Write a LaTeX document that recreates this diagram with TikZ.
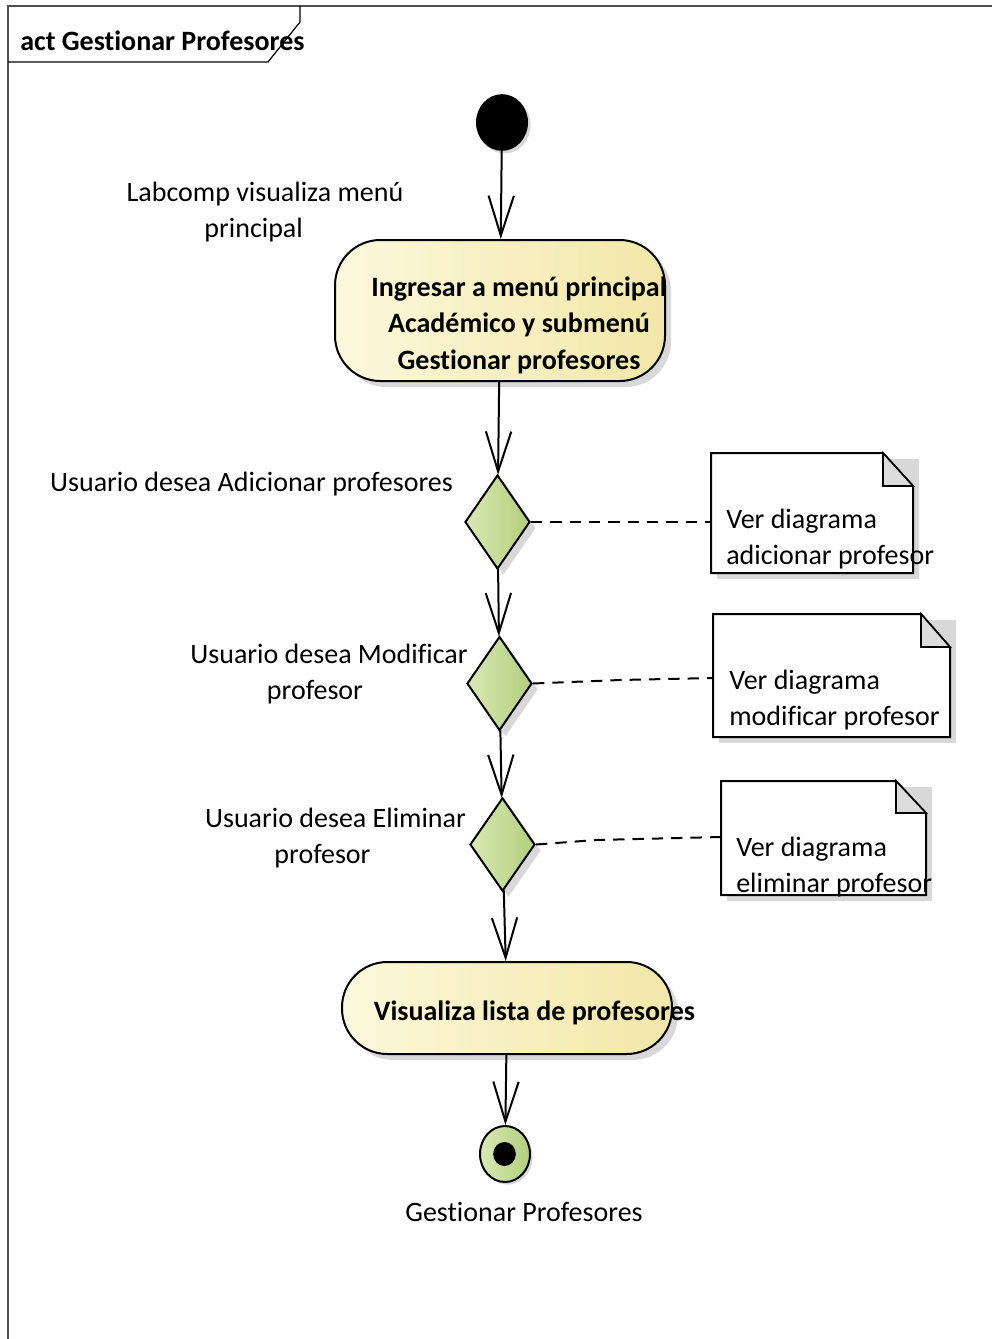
\documentclass[tikz,border=0pt]{standalone}
\usepackage{fontspec}
\setmainfont{Carlito}[Ligatures={NoCommon}]
\usetikzlibrary{arrows.meta,shapes.geometric,shadows}
\definecolor{actA}{HTML}{FCF8DC}
\definecolor{actB}{HTML}{F2E7A8}
\definecolor{decA}{HTML}{D9E9B4}
\definecolor{decB}{HTML}{B2CE7C}
\definecolor{shad}{HTML}{D8D8D8}
\definecolor{foldc}{HTML}{DCDCDC}
\definecolor{framec}{HTML}{505050}
\begin{document}
\begin{tikzpicture}[x=0.75pt,y=-0.75pt,
  every node/.style={font=\fontsize{21pt}{27pt}\selectfont, inner sep=0pt},
  flow/.style={draw, line width=1.5pt, -{Straight Barb[length=30pt,width=19pt,line width=1.5pt]}},
  notelink/.style={draw, line width=1.5pt, dash pattern=on 8.5pt off 6pt},
  mysh/.style={drop shadow={shadow xshift=4.5pt, shadow yshift=-4.5pt, fill=shad, opacity=1}},
  actbox/.style={rectangle, rounded corners=34pt, draw, line width=1.5pt, left color=actA, right color=actB, mysh},
  decbox/.style={diamond, draw, line width=1.5pt, left color=decA, right color=decB, mysh},
  notebox/.style={draw, line width=1.5pt, fill=white},
  lbl/.style={align=center},
  notetxt/.style={align=left, anchor=west},
]
\useasboundingbox (0,0) rectangle (992,1339);
% frame
\draw[framec, line width=0.9pt] (992,6) -- (8,6) -- (8,1339);
\draw[line width=0.9pt] (8,62) -- (268,62) -- (300,22) -- (300,6);
\node[anchor=west, font=\fontsize{21pt}{27pt}\selectfont\bfseries] (title) at (20,41) {act Gestionar Profesores};

% initial node
\node[ellipse, fill=black, minimum width=39pt, minimum height=42.5pt,
  drop shadow={shadow xshift=2pt, shadow yshift=-2pt, fill=shad, opacity=1}] (init) at (502,122.5) {};
\node[lbl] (l0) at (259,212) {\hspace*{9pt}Labcomp visualiza menú\\principal\hspace*{8pt}};

% action 1
\node[actbox, minimum width=247.5pt, minimum height=105.75pt] (act1) at (500,310.5) {};
\node[lbl, font=\fontsize{21pt}{27.4pt}\selectfont\bfseries] (act1t) at (519,325) {Ingresar a menú principal\\Académico y submenú\\Gestionar profesores};

% decisions
\node[decbox, minimum width=48.75pt, minimum height=70.5pt] (d1) at (497.5,522) {};
\node[decbox, minimum width=48.75pt, minimum height=70.5pt] (d2) at (499.5,683.5) {};
\node[decbox, minimum width=48.75pt, minimum height=70pt] (d3) at (502.5,844.5) {};

\node[lbl] (l1) at (251.5,484) {Usuario desea Adicionar profesores};
\node[lbl] (l2) at (322,674) {\hspace*{10.5pt}Usuario desea Modificar\\profesor\hspace*{10.5pt}};
\node[lbl] (l3) at (329,838.5) {\hspace*{9.75pt}Usuario desea Eliminar\\profesor\hspace*{9.75pt}};

% action 2
\node[actbox, minimum width=247.5pt, minimum height=69pt] (act2) at (507,1008) {};
\node[font=\fontsize{21pt}{27pt}\selectfont\bfseries] (act2t) at (534.5,1013) {Visualiza lista de profesores};

% final node
\node[ellipse, draw, line width=1.5pt, left color=decA, right color=decB, minimum width=37.5pt, minimum height=42pt,
  drop shadow={shadow xshift=2pt, shadow yshift=-2pt, fill=shad, opacity=1}] (fin) at (505,1154) {};
\node[ellipse, fill=black, minimum width=17pt, minimum height=18pt] (findot) at (504.5,1154) {};
\node[lbl] (l4) at (524,1212) {Gestionar Profesores};

% notes
% note 1
\fill[shad] (717,459) rectangle (919,579);
\draw[notebox] (711,453) -- (883,453) -- (913,486) -- (913,573) -- (711,573) -- cycle;
\filldraw[fill=foldc, line width=1.2pt] (883,453) -- (883,486) -- (913,486) -- cycle;
\coordinate (n1) at (711,522);
\node[notetxt] (n1t) at (726,539) {Ver diagrama\\adicionar profesor};
% note 2
\fill[shad] (719,620) rectangle (956,743);
\draw[notebox] (713,614) -- (921,614) -- (950,647) -- (950,737) -- (713,737) -- cycle;
\filldraw[fill=foldc, line width=1.2pt] (921,614) -- (921,647) -- (950,647) -- cycle;
\coordinate (n2) at (713,678);
\coordinate (k2) at (620,680);
\node[notetxt] (n2t) at (729,700) {Ver diagrama\\modificar profesor};
% note 3
\fill[shad] (727,787) rectangle (932,901);
\draw[notebox] (721,781) -- (896,781) -- (926,813) -- (926,895) -- (721,895) -- cycle;
\filldraw[fill=foldc, line width=1.2pt] (896,781) -- (896,813) -- (926,813) -- cycle;
\coordinate (n3) at (721,837);
\coordinate (k3) at (596,840);
\node[notetxt] (n3t) at (736,867) {Ver diagrama\\eliminar profesor};

% flows
\draw[flow] (init) -- (act1);
\draw[flow] (act1) -- (d1);
\draw[flow] (d1) -- (d2);
\draw[flow] (d2) -- (d3);
\draw[flow] (d3) -- (act2);
\draw[flow] (act2) -- (fin);

% note links
\draw[notelink] (d1.east) -- (n1);
\draw[notelink] (d2.east) -- (k2) -- (n2);
\draw[notelink] (d3.east) -- (k3) -- (n3);
\end{tikzpicture}
\end{document}
